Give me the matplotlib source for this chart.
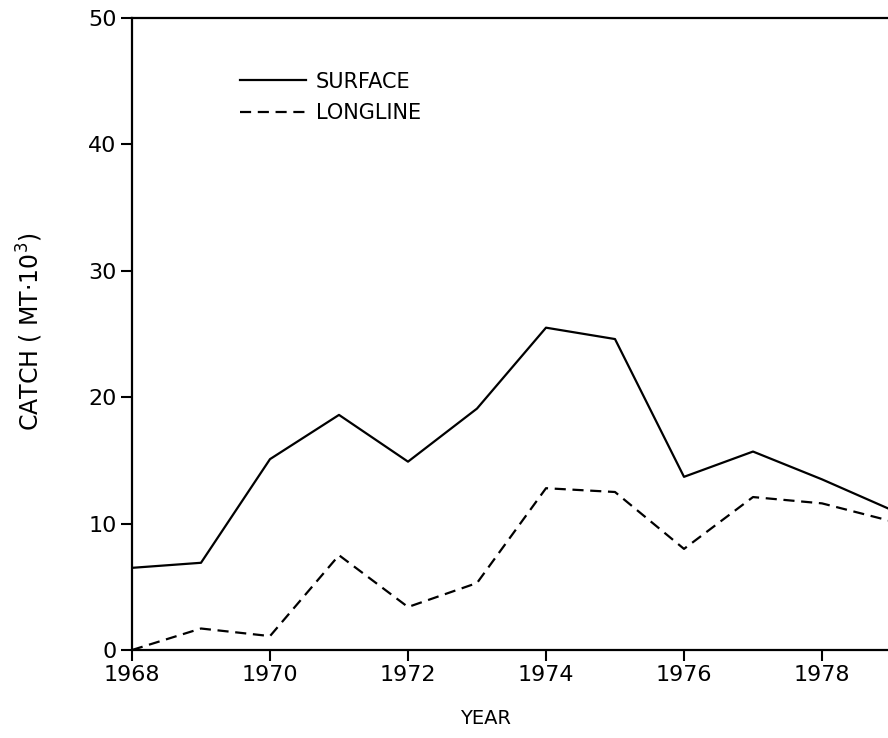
import numpy as np
import matplotlib
matplotlib.use("Agg")
import matplotlib.pyplot as plt

plt.rcParams['font.family'] = ['DejaVu Sans']

# Catch (thousands of metric tons)
years = [1968, 1969, 1970, 1971, 1972, 1973, 1974, 1975, 1976, 1977, 1978, 1979]
surface = [6.5, 6.9, 15.1, 18.6, 14.9, 19.1, 25.5, 24.6, 13.7, 15.7, 13.5, 11.1]
longline = [0.0, 1.7, 1.1, 7.5, 3.4, 5.3, 12.8, 12.5, 8.0, 12.1, 11.6, 10.2]
xticks = [1968, 1970, 1972, 1974, 1976, 1978]
yticks = [0, 10, 20, 30, 40, 50]

fig = plt.figure(figsize=(8.88, 7.38), dpi=100)
ax = fig.add_axes([132 / 888, 88 / 738, 759 / 888, 632 / 738])

ax.plot(years, surface, color='black', lw=1.6, label='SURFACE')
ax.plot(years, longline, color='black', lw=1.6, dashes=(5, 3), label='LONGLINE')

ax.set_xlim(1968, 1979)
ax.set_ylim(0, 50)
ax.set_xticks(xticks)
ax.set_yticks(yticks)
ax.tick_params(direction='out', length=8, width=1.5, labelsize=16, pad=3)

ax.spines['right'].set_visible(False)
for s in ['left', 'bottom', 'top']:
    ax.spines[s].set_linewidth(1.6)

ax.legend(loc='upper left', bbox_to_anchor=(0.142, 0.915), frameon=False,
          fontsize=15, handlelength=3.2, handletextpad=0.45, labelspacing=0.55,
          borderpad=0, borderaxespad=0)

fig.text(30 / 888, 1 - 332 / 738, r'CATCH ( MT$\cdot$10$^3$)', rotation=90,
         ha='center', va='center', fontsize=17)
fig.text(486 / 888, 1 - 718 / 738, 'YEAR', ha='center', va='center', fontsize=14)

fig.savefig('out.png', dpi=100)
